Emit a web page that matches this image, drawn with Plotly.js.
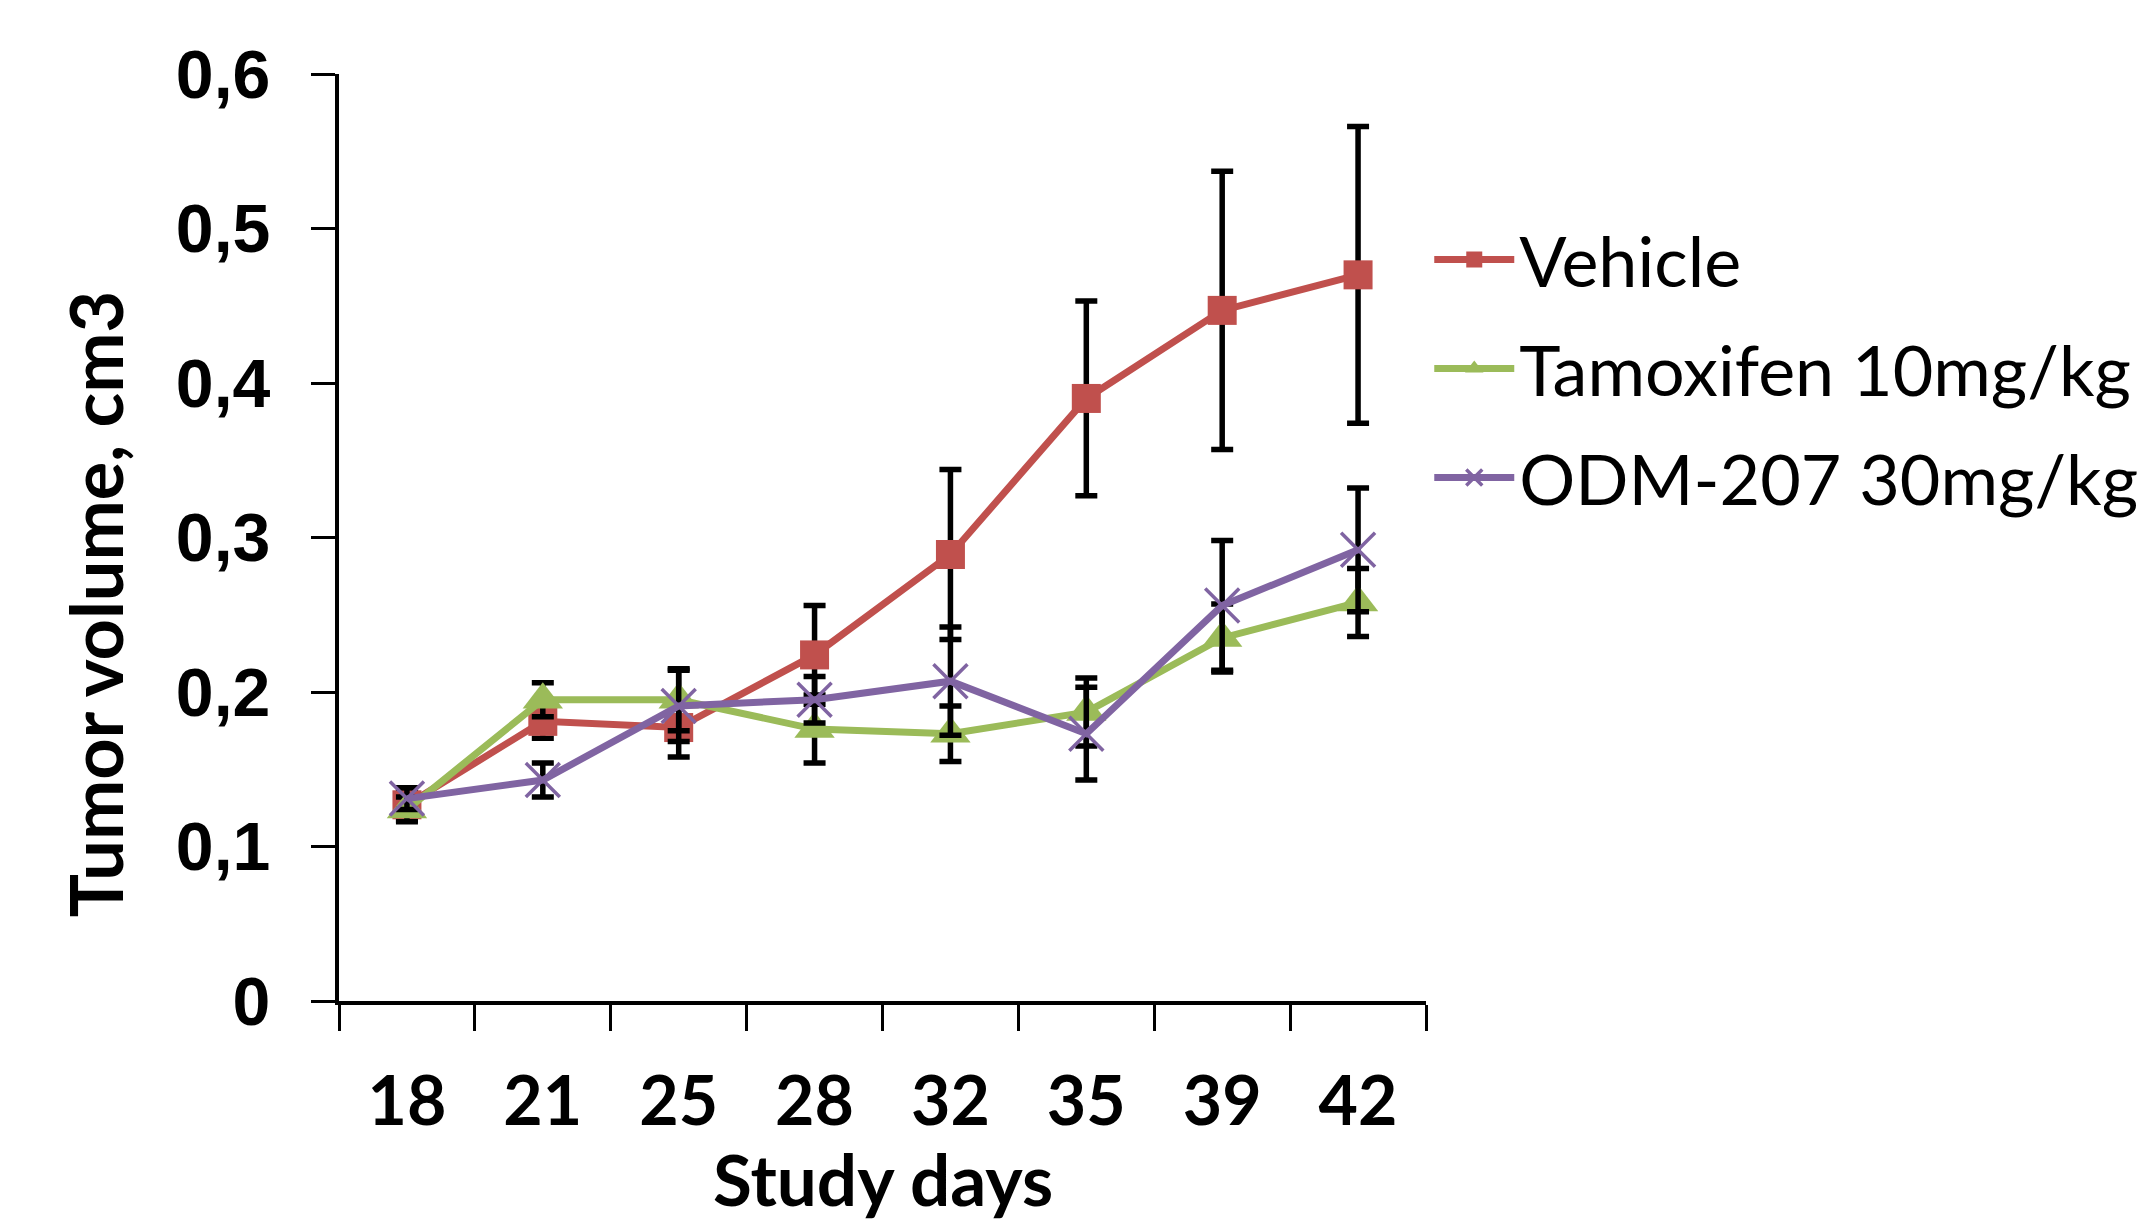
<!DOCTYPE html>
<html>
<head>
<meta charset="utf-8">
<script src="https://cdn.plot.ly/plotly-3.0.1.min.js"></script>
<style>
html,body{margin:0;padding:0;background:#fff;}
#chart{width:2142px;height:1231px;}
</style>
</head>
<body>
<div id="chart"></div>
<script>
const days = ['18','21','25','28','32','35','39','42'];
const vehicle = [0.127, 0.181, 0.177, 0.224, 0.289, 0.390, 0.447, 0.470];
const vehicleErr = [0.010, 0.011, 0.019, 0.032, 0.055, 0.063, 0.090, 0.096];
const tamoxifen = [0.124, 0.195, 0.195, 0.176, 0.173, 0.187, 0.235, 0.258];
const tamoxifenErr = [0.008, 0.011, 0.020, 0.022, 0.018, 0.022, 0.022, 0.022];
const odm = [0.131, 0.143, 0.191, 0.195, 0.207, 0.173, 0.256, 0.292];
const odmErr = [0.007, 0.011, 0.023, 0.015, 0.035, 0.030, 0.042, 0.040];
const seriesNames = ['Vehicle', 'Tamoxifen 10mg/kg', 'ODM-207 30mg/kg'];
const yTickVals = [0, 0.1, 0.2, 0.3, 0.4, 0.5, 0.6];
const yTickText = ['0', '0,1', '0,2', '0,3', '0,4', '0,5', '0,6'];
const xTitle = 'Study days';
const yTitle = 'Tumor volume, cm3';

function errSpec(arr){
  return {type:'data', array:arr, visible:true, color:'#000000', thickness:5.5, width:11};
}

const traces = [
  {x: days, y: vehicle, name: seriesNames[0], type:'scatter', mode:'lines+markers', legendgroup:'a',
   line:{color:'#C0504D', width:7}, marker:{symbol:'square', size:29, color:'#C0504D'},
   error_y: errSpec(vehicleErr)},
  {x: days, y: tamoxifen, name: seriesNames[1], type:'scatter', mode:'lines+markers', legendgroup:'b',
   line:{color:'#9BBB59', width:7}, marker:{symbol:'triangle-up', size:35, color:'#9BBB59'},
   error_y: errSpec(tamoxifenErr)},
  {x: days, y: odm, name: seriesNames[2], type:'scatter', mode:'lines+markers', legendgroup:'c',
   line:{color:'#8064A2', width:7}, marker:{symbol:'x-thin', size:34, color:'#8064A2', line:{color:'#8064A2', width:3.5}},
   error_y: errSpec(odmErr)}
];

const layout = {
  width: 2142, height: 1231,
  margin: {l:339, r:716, t:74, b:230, pad:0, autoexpand:false},
  paper_bgcolor:'#ffffff', plot_bgcolor:'#ffffff',
  showlegend: true,
  legend: {x:1.003, xanchor:'left', y:0.856, yanchor:'top', traceorder:'grouped', tracegroupgap:15,
           font:{family:'Lato, sans-serif', size:70, color:'#000000'}, itemwidth:80, bgcolor:'rgba(0,0,0,0)'},
  xaxis: {
    type:'category', range:[-0.5, 7.5], showline:true, linecolor:'#000000', linewidth:4,
    ticks:'outside', tickson:'boundaries', ticklen:26, tickwidth:3, tickcolor:'#000000',
    showgrid:false, zeroline:false, ticklabelstandoff:38,
    tickfont:{family:'Lato, sans-serif', size:68, color:'#000000', weight:'bold'}
  },
  yaxis: {
    range:[0, 0.6], showline:true, linecolor:'#000000', linewidth:4,
    ticks:'outside', ticklen:24, tickwidth:3, tickcolor:'#000000',
    tickvals: yTickVals, ticktext: yTickText,
    showgrid:false, zeroline:false, ticklabelstandoff:27,
    tickfont:{family:'"Liberation Sans", Arial, sans-serif', size:68, color:'#000000', weight:'bold'}
  },
  annotations: [
    {text: yTitle, textangle:-90, xref:'paper', yref:'paper', x:-0.2245, y:0.428,
     xanchor:'center', yanchor:'middle', showarrow:false,
     font:{family:'Lato, sans-serif', size:72, color:'#000000', weight:'bold'}},
    {text: xTitle, xref:'paper', yref:'paper', x:0.5, y:-0.143,
     xanchor:'center', yanchor:'top', showarrow:false,
     font:{family:'Lato, sans-serif', size:71, color:'#000000', weight:'bold'}}
  ]
};

Plotly.newPlot('chart', traces, layout, {displayModeBar:false, staticPlot:true});
</script>
</body>
</html>
